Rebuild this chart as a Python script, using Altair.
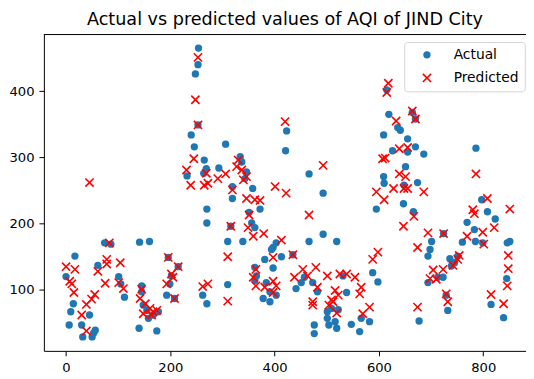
import altair as alt
import pandas as pd

title_text = "Actual vs predicted values of AQI of JIND City"
series_names = ["Actual", "Predicted"]
x_ticks = [0, 200, 400, 600, 800]
y_ticks = [100, 200, 300, 400]

act_x = [0, 6, 9, 14, 17, 30, 32, 45, 50, 53, 56, 61, 74, 86, 101, 105, 112,
         140, 141, 145, 145, 148, 155, 158, 160, 167, 174, 177,
         193, 196, 199, 202, 208, 215,
         232, 240, 246, 248, 253, 254, 253, 262, 264, 265, 269, 270, 270, 270, 293, 306, 310, 310, 316, 319, 319,
         334, 337, 339, 343, 346, 351, 356, 358, 362, 362, 362, 365, 372, 378, 381, 384, 391, 391, 394, 397, 397,
         403, 403, 413, 421, 423, 435, 441, 451, 457, 466, 466, 473, 476, 476, 482, 493, 493,
         501, 501, 504, 509, 516, 519, 519, 522, 531, 538, 547, 563, 566, 582, 588, 595, 598, 609, 609, 610, 615,
         619, 626, 636, 641, 647, 648, 651, 655, 655, 664, 666, 670, 670, 674, 677, 686,
         694, 694, 698, 701, 713, 723, 724, 729, 732, 736, 739, 745, 751, 760, 769, 783, 785, 786, 797, 799, 808,
         815, 823, 839, 845, 846, 851]
act_y = [120, 47, 67, 79, 151, 47, 29, 62, 29, 35, 39, 137, 171, 169, 120, 109, 89,
         42, 172, 97, 106, 77, 69, 57, 173, 62, 38, 67,
         92, 149, 109, 121, 87, 135,
         272, 334, 316, 426, 440, 465, 349, 92, 276, 296, 283, 222, 201, 79, 284, 320, 173, 108, 196, 256, 238,
         301, 293, 173, 268, 278, 217, 201, 253, 194, 134, 114, 121, 222, 87, 146, 111, 97, 82, 161, 164, 133,
         171, 92, 150, 310, 340, 153, 102, 111, 119, 275, 173, 111, 47, 34, 97, 246, 184,
         67, 57, 47, 72, 52, 42, 173, 70, 121, 96, 48, 37, 57, 52, 126, 222, 112, 334, 271, 261, 402,
         365, 310, 345, 341, 230, 258, 286, 328, 308, 368, 218, 358, 316, 262, 53, 305,
         151, 111, 161, 173, 119, 119, 185, 92, 69, 147, 136, 141, 151, 172, 202, 191, 173, 314, 236, 171, 218,
         78, 207, 58, 117, 171, 173]

pred_x = [0, 7, 11, 15, 17, 30, 39, 39, 45, 49, 55, 61, 75, 78, 78, 83, 101, 104, 110,
          142, 145, 148, 152, 161, 164, 167, 174,
          193, 196, 202, 205, 208, 215,
          231, 239, 245, 248, 253, 253, 262, 265, 269, 272, 272, 291, 306, 310, 310, 316, 319,
          327, 330, 337, 340, 346, 346, 349, 351, 359, 359, 362, 364, 364, 372, 379, 381, 397, 397, 397,
          401, 403, 413, 420, 422, 435, 438, 454, 463, 466, 473, 473, 479, 482, 493, 501, 504,
          509, 512, 516, 519, 522, 525, 538, 554, 563, 566, 569, 582, 588, 595, 598, 607, 612, 610, 615,
          618, 628, 633, 639, 639, 647, 648, 651, 655, 655, 664, 667, 670, 674, 674, 686,
          694, 698, 704, 710, 723, 724, 729, 732, 742, 751, 754, 769, 780, 783, 786, 799, 801, 808,
          815, 821, 839, 846, 848, 848, 851]
pred_y = [135, 113, 109, 96, 131, 62, 78, 38, 262, 86, 93, 128, 110, 146, 139, 171, 111, 141, 102,
          87, 101, 64, 79, 72, 62, 67, 69,
          109, 149, 124, 119, 87, 135,
          281, 258, 298, 387, 451, 349, 105, 258, 276, 261, 109, 268, 275, 150, 83, 196, 251,
          286, 296, 281, 266, 271, 238, 194, 213, 181, 119, 236, 131, 106, 235, 185, 104, 149, 113, 96,
          256, 106, 175, 354, 246, 153, 119, 131, 121, 213, 82, 77, 134, 104, 288, 121, 77,
          85, 82, 99, 65, 92, 124, 124, 119, 94, 104, 64, 74, 146, 248, 157, 298, 299, 236, 398,
          412, 253, 355, 313, 275, 196, 253, 271, 315, 253, 370, 211, 358, 164, 74, 248,
          186, 117, 130, 116, 131, 185, 94, 82, 137, 146, 152, 181, 221, 215, 275, 187, 169, 238,
          93, 194, 79, 106, 152, 132, 222]

df = pd.DataFrame({
    "x": act_x + pred_x,
    "y": act_y + pred_y,
    "series": [series_names[0]] * len(act_x) + [series_names[1]] * len(pred_x),
})

X_PATH = "M-1,-1L1,1M-1,1L1,-1"

leg = alt.Legend(
    title=None, orient="none", legendX=364.5, legendY=7.5, padding=6,
    fillColor="white", strokeColor="#d5d5d5", cornerRadius=3,
    symbolStrokeWidth=1.6, symbolOffset=10, labelOffset=20,
    rowPadding=8.4, labelFont="DejaVu Sans", labelFontSize=14, labelColor="black",
)

points = alt.Chart(df).mark_point(opacity=1, strokeWidth=1.6).encode(
    x=alt.X("x:Q", scale=alt.Scale(domain=[-42.5, 882], nice=False, zero=False),
            axis=alt.Axis(values=x_ticks, title=None, grid=False)),
    y=alt.Y("y:Q", scale=alt.Scale(domain=[7.9, 485.5], nice=False, zero=False),
            axis=alt.Axis(values=y_ticks, title=None, grid=False)),
    shape=alt.Shape("series:N", scale=alt.Scale(domain=series_names, range=["circle", X_PATH]), legend=leg),
    fill=alt.Fill("series:N", scale=alt.Scale(domain=series_names, range=["#1f77b4", "transparent"]), legend=leg),
    stroke=alt.Stroke("series:N", scale=alt.Scale(domain=series_names, range=["transparent", "#ff0000"]), legend=leg),
    size=alt.Size("series:N", scale=alt.Scale(domain=series_names, range=[55, 69]), legend=leg),
)

frame_top = alt.Chart(pd.DataFrame({"k": [0]})).mark_rule(color="black", strokeWidth=1).encode(
    y=alt.value(0)
)

chart = alt.layer(points, frame_top).properties(
    width=487.7,
    height=320,
    padding={"left": 36.3, "top": 24.7, "right": 0, "bottom": 26},
    autosize=alt.AutoSizeParams(type="none"),
    title=alt.Title(title_text, fontSize=17.8, font="DejaVu Sans", fontWeight="normal",
                    color="black", baseline="alphabetic", offset=9.2, dy=18,
                    anchor="middle", frame="group"),
).configure_view(stroke=None).configure_axis(
    labelFont="DejaVu Sans", labelFontSize=13.3, labelColor="black",
    domainColor="black", domainWidth=1, tickColor="black", tickWidth=1,
    tickSize=5, labelPadding=5,
)

chart.save("out.html", embed_options={"renderer": "svg", "actions": False})
